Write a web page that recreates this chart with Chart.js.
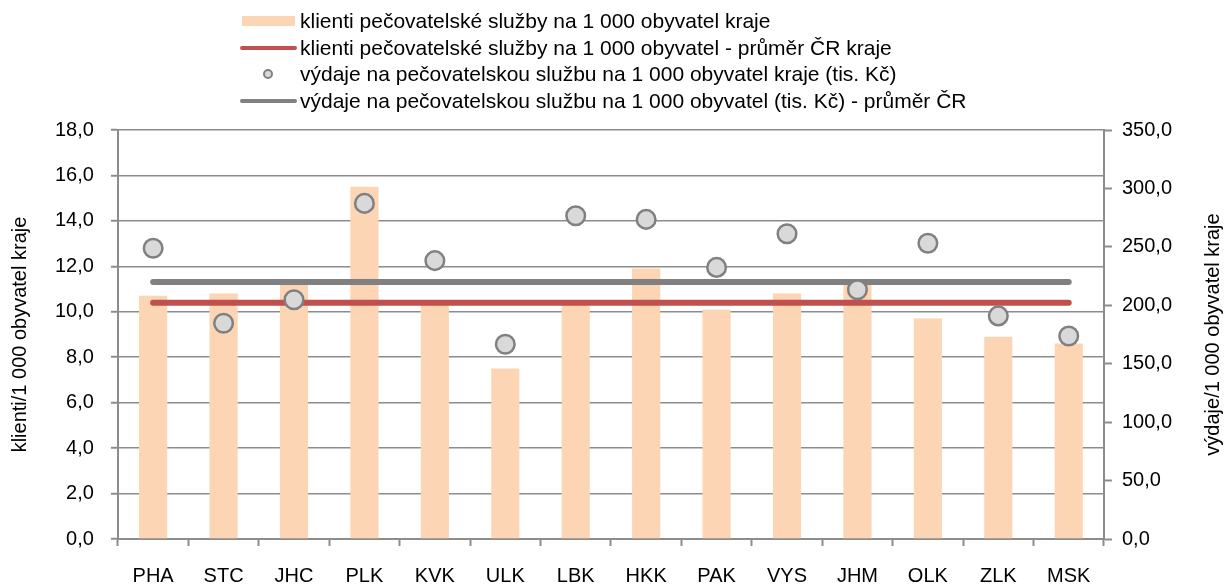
<!DOCTYPE html>
<html>
<head>
<meta charset="utf-8">
<script src="https://cdn.jsdelivr.net/npm/chart.js@4.4.1/dist/chart.umd.min.js"></script>
<style>
  html, body { margin: 0; padding: 0; background: #fff; }
  #wrap { position: relative; width: 1227px; height: 584px; }
  #legend { position: absolute; left: 240px; top: 8px; font: 21px "Liberation Sans", Arial, sans-serif; color: #000; }
  .row { display: flex; align-items: center; height: 26.5px; white-space: nowrap; }
  .sw { width: 57px; height: 26px; position: relative; margin-right: 3px; flex: none; }
  .sw .bar { position: absolute; left: 2px; right: 2px; top: 8px; height: 10px; background: #fcd5b4; }
  .sw .line { position: absolute; left: 0; right: 0; top: 11px; height: 4px; border-radius: 2px; }
  .sw .dot { position: absolute; left: 23px; top: 8px; width: 6px; height: 6px; border-radius: 50%; background: #d9d9d9; border: 2px solid #808080; }
</style>
</head>
<body>
<div id="wrap">
  <canvas id="chart" width="1227" height="584"></canvas>
  <div id="legend"></div>
</div>
<script>
const regions = ['PHA', 'STC', 'JHC', 'PLK', 'KVK', 'ULK', 'LBK', 'HKK', 'PAK', 'VYS', 'JHM', 'OLK', 'ZLK', 'MSK'];

// klienti na 1 000 obyvatel (levá osa)
const clients = [10.7, 10.8, 11.2, 15.5, 10.5, 7.5, 10.5, 11.9, 10.1, 10.8, 11.2, 9.7, 8.9, 8.6];
const clientsAvg = [10.4, 10.4, 10.4, 10.4, 10.4, 10.4, 10.4, 10.4, 10.4, 10.4, 10.4, 10.4, 10.4, 10.4];

// výdaje na 1 000 obyvatel, tis. Kč (pravá osa)
const expenses = [248.8, 184.6, 204.7, 287.2, 238.2, 166.6, 276.6, 273.5, 232.4, 261.2, 213.3, 253.1, 190.9, 173.7];
const expensesAvg = [220, 220, 220, 220, 220, 220, 220, 220, 220, 220, 220, 220, 220, 220];

const labels = [
    'klienti pečovatelské služby na 1 000 obyvatel kraje',
    'klienti pečovatelské služby na 1 000 obyvatel - průměr ČR kraje',
    'výdaje na pečovatelskou službu na 1 000 obyvatel kraje (tis. Kč)',
    'výdaje na pečovatelskou službu na 1 000 obyvatel (tis. Kč) - průměr ČR'
];
const leftTitle = 'klienti/1 000 obyvatel kraje';
const rightTitle = 'výdaje/1 000 obyvatel kraje';

const font = '"Liberation Sans", Arial, sans-serif';
const axisGray = '#8c8c8c';
const fmt = v => v.toFixed(1).replace('.', ',');

// legend
const swatches = [
    '<div class="bar"></div>',
    '<div class="line" style="background:#c0504d"></div>',
    '<div class="dot"></div>',
    '<div class="line" style="background:#808080"></div>'
];
document.getElementById('legend').innerHTML = labels
    .map((l, i) => `<div class="row"><div class="sw">${swatches[i]}</div><span>${l}</span></div>`)
    .join('');

const rightTitlePlugin = {
    id: 'rightTitle',
    afterDraw(chart) {
        const { ctx, chartArea } = chart;
        ctx.save();
        ctx.translate(1213, (chartArea.top + chartArea.bottom) / 2);
        ctx.rotate(-Math.PI / 2);
        ctx.font = `20px ${font}`;
        ctx.fillStyle = '#000';
        ctx.textAlign = 'center';
        ctx.textBaseline = 'middle';
        ctx.fillText(rightTitle, 0, 0);
        ctx.restore();
    }
};

Chart.defaults.font.family = font;
Chart.defaults.font.size = 20;
Chart.defaults.color = '#000';

new Chart(document.getElementById('chart').getContext('2d'), {
    type: 'bar',
    data: {
        labels: regions,
        datasets: [
            {
                type: 'line',
                label: labels[2],
                data: expenses,
                yAxisID: 'y1',
                showLine: false,
                pointRadius: 9.3,
                pointBorderWidth: 2.5,
                pointBackgroundColor: '#d9d9d9',
                pointBorderColor: '#808080',
                order: 1
            },
            {
                type: 'line',
                label: labels[3],
                data: expensesAvg,
                yAxisID: 'y1',
                borderColor: '#808080',
                borderWidth: 6,
                borderCapStyle: 'round',
                pointRadius: 0,
                order: 2
            },
            {
                type: 'line',
                label: labels[1],
                data: clientsAvg,
                yAxisID: 'y',
                borderColor: '#c0504d',
                borderWidth: 6,
                borderCapStyle: 'round',
                pointRadius: 0,
                order: 3
            },
            {
                label: labels[0],
                data: clients,
                yAxisID: 'y',
                backgroundColor: '#fcd5b4',
                barPercentage: 0.4,
                categoryPercentage: 1.0,
                order: 4
            }
        ]
    },
    options: {
        responsive: false,
        animation: false,
        layout: { padding: { top: 130, left: 0, right: 45, bottom: -22 } },
        plugins: {
            legend: { display: false },
            tooltip: { enabled: false }
        },
        scales: {
            x: {
                grid: { offset: true, drawOnChartArea: false, tickLength: 7, tickColor: axisGray, tickWidth: 2 },
                border: { color: axisGray, width: 2 },
                ticks: { padding: 18 }
            },
            y: {
                position: 'left',
                min: 0,
                max: 18,
                ticks: { stepSize: 2, padding: 17, callback: v => fmt(v) },
                grid: { color: axisGray, lineWidth: 1.5, tickLength: 7, tickWidth: 2 },
                border: { color: axisGray, width: 2 },
                title: { display: true, text: leftTitle, padding: { top: 8, bottom: 6 } }
            },
            y1: {
                position: 'right',
                min: 0,
                max: 350,
                ticks: { stepSize: 50, padding: 10, callback: v => fmt(v) },
                grid: { drawOnChartArea: false, tickLength: 8, tickColor: axisGray, tickWidth: 2 },
                border: { color: axisGray, width: 2 }
            }
        }
    },
    plugins: [rightTitlePlugin]
});
</script>
</body>
</html>
